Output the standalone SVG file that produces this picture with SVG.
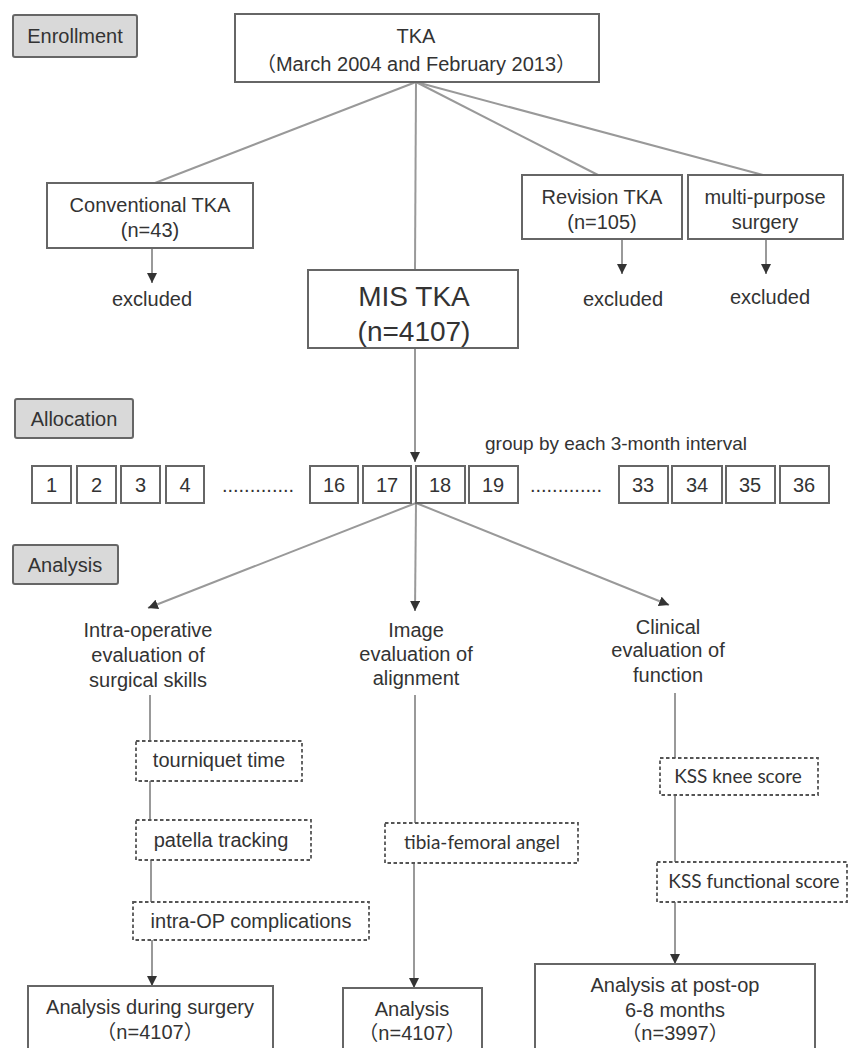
<svg xmlns="http://www.w3.org/2000/svg" width="851" height="1048" viewBox="0 0 851 1048">
<defs>
<style>
text{font-family:"Liberation Sans",Arial,"Noto Sans CJK SC",sans-serif;fill:#333;font-size:20px;text-anchor:middle}
text.big{font-size:28px}
text.small{font-size:19px}
text.hum{font-family:Lato,"Open Sans",sans-serif;font-size:19px}
.box{fill:#fff;stroke:#666;stroke-width:2}
.lab{fill:#d9d9d9;stroke:#666;stroke-width:2}
.dash{fill:#fff;stroke:#555;stroke-width:1.8;stroke-dasharray:3.5 2.5}
.ln{stroke:#999;stroke-width:2;fill:none}
.arr{stroke:#999;stroke-width:2;fill:none;marker-end:url(#ah)}
</style>
<marker id="ah" viewBox="0 0 10 10" refX="10" refY="5" markerWidth="5" markerHeight="5" orient="auto" markerUnits="strokeWidth">
<path d="M0,0 L10,5 L0,10 z" fill="#333"/>
</marker>
</defs>
<rect width="851" height="1048" fill="#fff"/>

<g id="connectors">
<line class="ln" x1="416" y1="82" x2="155" y2="183"/>
<line class="ln" x1="416" y1="82" x2="415" y2="270"/>
<line class="ln" x1="416" y1="82" x2="598" y2="175"/>
<line class="ln" x1="416" y1="82" x2="763" y2="175"/>
<line class="arr" x1="152" y1="248" x2="152" y2="283"/>
<line class="arr" x1="622" y1="239" x2="622" y2="274"/>
<line class="arr" x1="766" y1="239" x2="766" y2="274"/>
<line class="arr" x1="415" y1="348" x2="415" y2="462"/>
<line class="arr" x1="416" y1="503" x2="148" y2="608"/>
<line class="arr" x1="416" y1="503" x2="415" y2="611"/>
<line class="arr" x1="416" y1="503" x2="669" y2="605"/>
<line class="ln" x1="150" y1="695" x2="150" y2="741"/>
<line class="ln" x1="150" y1="781" x2="150" y2="820"/>
<line class="ln" x1="151" y1="860" x2="151" y2="902"/>
<line class="arr" x1="152" y1="940" x2="152" y2="986"/>
<line class="ln" x1="415" y1="695" x2="415" y2="823"/>
<line class="arr" x1="414" y1="863" x2="414" y2="988"/>
<line class="ln" x1="675" y1="693" x2="675" y2="758"/>
<line class="ln" x1="675" y1="795" x2="675" y2="862"/>
<line class="arr" x1="675" y1="902" x2="675" y2="964"/>
</g>

<g id="enrollment"><rect class="lab" x="13" y="15" width="124" height="42" rx="2"/><text x="75" y="43">Enrollment</text></g>
<g id="allocation"><rect class="lab" x="15" y="399" width="118" height="39" rx="2"/><text x="74" y="426">Allocation</text></g>
<g id="analysis"><rect class="lab" x="13" y="545" width="105" height="39" rx="2"/><text x="65" y="572">Analysis</text></g>

<g id="tka"><rect class="box" x="235" y="14" width="364" height="68"/><text x="416" y="43">TKA</text><text x="416" y="71">（March 2004 and February 2013）</text></g>
<g id="conventional"><rect class="box" x="47" y="183" width="206" height="65"/><text x="150" y="212">Conventional TKA</text><text x="150" y="237">(n=43)</text></g>
<g id="excluded1"><text x="152" y="306">excluded</text></g>
<g id="revision"><rect class="box" x="522" y="175" width="160" height="64"/><text x="602" y="204">Revision TKA</text><text x="602" y="229">(n=105)</text></g>
<g id="excluded2"><text x="623" y="306">excluded</text></g>
<g id="multipurpose"><rect class="box" x="688" y="175" width="155" height="64"/><text x="765" y="204">multi-purpose</text><text x="765" y="229">surgery</text></g>
<g id="excluded3"><text x="770" y="304">excluded</text></g>
<g id="mis"><rect class="box" x="308" y="270" width="210" height="78"/><text class="big" x="414" y="306">MIS TKA</text><text class="big" x="414" y="341">(n=4107)</text></g>

<g id="group-label"><text class="small" x="616" y="450">group by each 3-month interval</text></g>
<g id="groups">
<rect class="box" x="32" y="466" width="39" height="37"/><text x="51.5" y="492">1</text>
<rect class="box" x="77" y="466" width="39" height="37"/><text x="96.5" y="492">2</text>
<rect class="box" x="121" y="466" width="39" height="37"/><text x="140.5" y="492">3</text>
<rect class="box" x="166" y="466" width="38" height="37"/><text x="185" y="492">4</text>
<text x="258" y="492">.............</text>
<rect class="box" x="310" y="466" width="48" height="37"/><text x="334" y="492">16</text>
<rect class="box" x="363" y="466" width="48" height="37"/><text x="387" y="492">17</text>
<rect class="box" x="416" y="466" width="49" height="37"/><text x="440" y="492">18</text>
<rect class="box" x="469" y="466" width="49" height="37"/><text x="493" y="492">19</text>
<text x="566" y="492">.............</text>
<rect class="box" x="619" y="466" width="49" height="37"/><text x="643" y="492">33</text>
<rect class="box" x="672" y="466" width="50" height="37"/><text x="697" y="492">34</text>
<rect class="box" x="726" y="466" width="49" height="37"/><text x="750" y="492">35</text>
<rect class="box" x="780" y="466" width="49" height="37"/><text x="804" y="492">36</text>
</g>

<g id="intraop"><text x="148" y="637">Intra-operative</text><text x="148" y="662">evaluation of</text><text x="148" y="687">surgical skills</text></g>
<g id="image"><text x="416" y="637">Image</text><text x="416" y="661">evaluation of</text><text x="416" y="685">alignment</text></g>
<g id="clinical"><text x="668" y="634">Clinical</text><text x="668" y="657">evaluation of</text><text x="668" y="682">function</text></g>

<g id="tourniquet"><rect class="dash" x="136" y="741" width="166" height="40"/><text x="219" y="767">tourniquet time</text></g>
<g id="patella"><rect class="dash" x="136" y="820" width="175" height="40"/><text x="221" y="847">patella tracking</text></g>
<g id="complications"><rect class="dash" x="133" y="902" width="236" height="38"/><text x="251" y="928">intra-OP complications</text></g>
<g id="tibia"><rect class="dash" x="385" y="823" width="193" height="40"/><text class="hum" x="482" y="849">tibia-femoral angel</text></g>
<g id="kss-knee"><rect class="dash" x="660" y="758" width="158" height="37"/><text class="hum" x="738" y="783">KSS knee score</text></g>
<g id="kss-func"><rect class="dash" x="657" y="862" width="190" height="40"/><text class="hum" x="754" y="888">KSS functional score</text></g>

<g id="result-surgery"><rect class="box" x="28" y="986" width="245" height="80"/><text x="150" y="1014">Analysis during surgery</text><text x="150" y="1039">（n=4107）</text></g>
<g id="result-image"><rect class="box" x="343" y="988" width="139" height="80"/><text x="412" y="1016">Analysis</text><text x="412" y="1040">（n=4107）</text></g>
<g id="result-clinical"><rect class="box" x="535" y="964" width="280" height="100"/><text x="675" y="992">Analysis at post-op</text><text x="675" y="1017">6-8 months</text><text x="675" y="1040">（n=3997）</text></g>
</svg>
